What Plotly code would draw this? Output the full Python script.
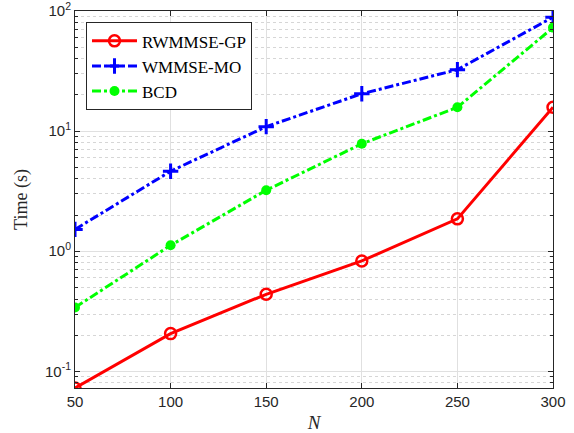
import plotly.graph_objects as go

N = [50, 100, 150, 200, 250, 300]
rwmmse_gp = [0.0726, 0.206, 0.438, 0.83, 1.86, 15.8]
wmmse_mo = [1.52, 4.64, 10.9, 20.5, 32.5, 89.0]
bcd = [0.34, 1.12, 3.22, 7.85, 15.8, 72.8]

ytick_vals = [0.1, 1, 10, 100]
ytick_text = ["10<sup>-1</sup>", "10<sup>0</sup>", "10<sup>1</sup>", "10<sup>2</sup>"]
xtick_vals = [50, 100, 150, 200, 250, 300]

fig = go.Figure()
fig.add_trace(go.Scatter(x=N, y=rwmmse_gp, name="RWMMSE-GP", mode="lines+markers",
                         line=dict(color="#ff0000", width=3),
                         marker=dict(symbol="circle-open", size=11, color="#ff0000", line=dict(width=2.5))))
fig.add_trace(go.Scatter(x=N, y=wmmse_mo, name="WMMSE-MO", mode="lines+markers",
                         line=dict(color="#0000ff", width=3, dash="dashdot"),
                         marker=dict(symbol="cross-thin", size=11, color="#0000ff", line=dict(width=3, color="#0000ff"))))
fig.add_trace(go.Scatter(x=N, y=bcd, name="BCD", mode="lines+markers",
                         line=dict(color="#00ff00", width=3, dash="dashdot"),
                         marker=dict(symbol="circle", size=10, color="#00ff00")))

axis_common = dict(showline=True, linecolor="#262626", linewidth=1, mirror="ticks",
                   ticks="inside", ticklen=5, tickcolor="#262626", automargin=False,
                   showgrid=True, gridcolor="#e0e0e0", gridwidth=1, zeroline=False,
                   tickfont=dict(family="Liberation Sans", size=15, color="#262626"))

fig.update_xaxes(range=[50, 300], tickvals=xtick_vals,
                 title=dict(text="<i>N</i>", font=dict(family="Liberation Serif", size=19, color="#262626"), standoff=6),
                 **axis_common)
fig.update_yaxes(type="log", range=[-1.139, 2.0005], tickvals=ytick_vals, ticktext=ytick_text,
                 title=dict(text="Time (s)", font=dict(family="Liberation Serif", size=18, color="#262626"), standoff=12),
                 minor=dict(dtick="D1", ticks="inside", ticklen=3, tickcolor="#262626", showgrid=True,
                            gridcolor="#d6d6d6", griddash="dot", gridwidth=1),
                 **axis_common)

fig.update_layout(width=574, height=433, margin=dict(l=75, r=21, t=11, b=45),
                  plot_bgcolor="white", paper_bgcolor="white",
                  legend=dict(x=0.023, y=0.97, xanchor="left", yanchor="top",
                              bgcolor="white", bordercolor="#262626", borderwidth=1,
                              font=dict(family="Liberation Serif", size=17, color="black"),
                              tracegroupgap=0, itemwidth=45),
                  showlegend=True)

fig.write_html("out.html", config={"displayModeBar": False},
               post_script="document.body.style.margin='0';document.body.style.overflow='hidden';")
